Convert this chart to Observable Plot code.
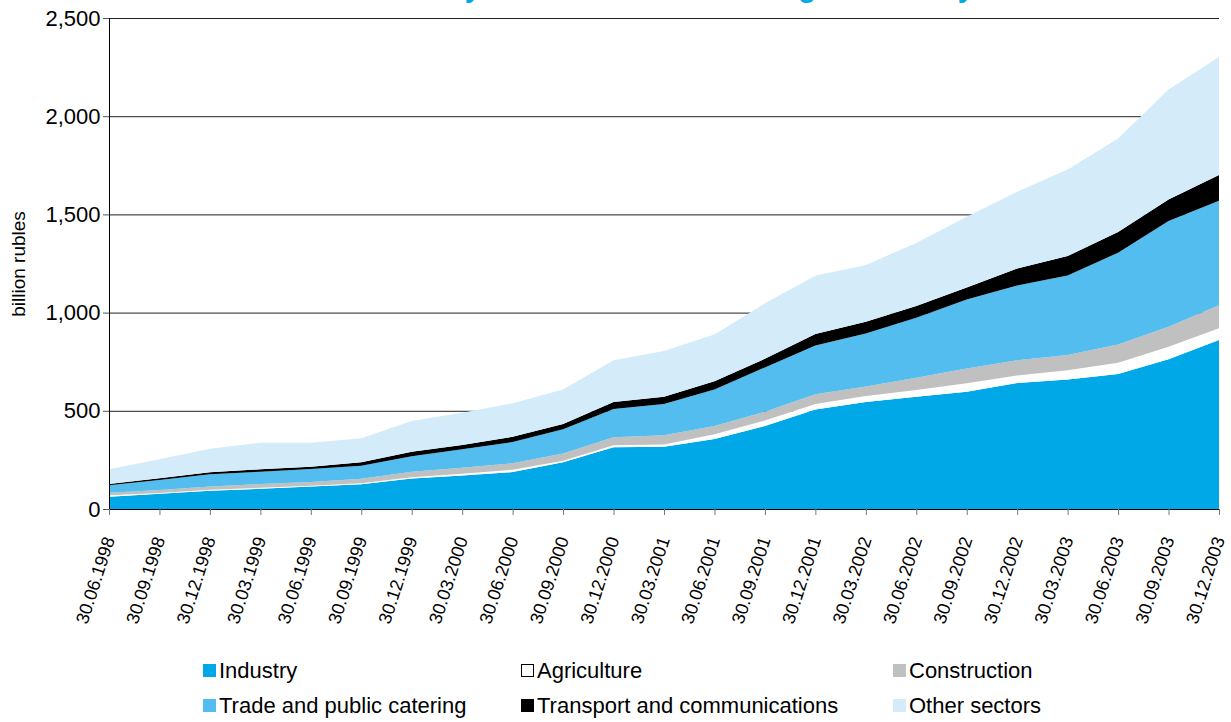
<!DOCTYPE html>
<html>
<head>
<meta charset="utf-8">
<script src="https://cdn.jsdelivr.net/npm/d3@7"></script>
<script src="https://cdn.jsdelivr.net/npm/@observablehq/plot@0.6"></script>
<style>
  html, body { margin: 0; padding: 0; background: #fff; overflow: hidden; }
  body { width: 1231px; height: 722px; position: relative; font-family: "Liberation Sans", Arial, sans-serif; }
  #title { position: absolute; left: 173px; top: -27px; font-size: 29px; line-height: 28px; font-weight: bold; color: #00a8e8; white-space: nowrap; }
  #chart { position: absolute; left: 0; top: 0; }
  #legend { position: absolute; left: 203px; top: 653px; display: grid; grid-template-columns: 318px 372px auto; grid-auto-rows: 35px; }
  .item { display: flex; align-items: center; font-size: 22px; color: #000; white-space: nowrap; }
  .sw { width: 13px; height: 13px; margin-right: 3px; box-sizing: border-box; }
</style>
</head>
<body>
<div id="title">Loans to the economy broken down according to industry</div>
<div id="chart"></div>
<div id="legend"></div>
<script>
const dates = ["30.06.1998","30.09.1998","30.12.1998","30.03.1999","30.06.1999","30.09.1999","30.12.1999","30.03.2000","30.06.2000","30.09.2000","30.12.2000","30.03.2001","30.06.2001","30.09.2001","30.12.2001","30.03.2002","30.06.2002","30.09.2002","30.12.2002","30.03.2003","30.06.2003","30.09.2003","30.12.2003"];
const industry     = [63,78,93,103,114,126,155,171,188,238,314,317,357,422,507,545,572,597,641,660,687,762,860];
const agriculture  = [7,4,5,5,5,5,7,9,12,8,10,12,23,28,27,30,34,43,39,47,58,64,60];
const construction = [13,15,16,19,18,23,28,30,33,37,41,46,43,45,50,49,62,76,78,77,93,102,117];
const trade        = [38,51,63,63,67,66,78,94,108,123,144,159,185,226,249,270,306,351,380,405,467,538,532];
const transport    = [6,8,10,12,11,18,24,22,27,27,36,38,42,44,58,59,59,61,87,99,106,110,131];
const other        = [75,97,120,135,122,122,156,164,170,176,213,232,239,282,296,289,322,360,390,441,476,560,602];
const sectors = ["Industry","Agriculture","Construction","Trade and public catering","Transport and communications","Other sectors"];
const colors  = ["#00a8e8","#ffffff","#c0c0c0","#52bdee","#000000","#d4ebf9"];
const yTicks  = [0,500,1000,1500,2000,2500];
const legendOrder = ["Industry","Agriculture","Construction","Trade and public catering","Transport and communications","Other sectors"];

const series = [industry, agriculture, construction, trade, transport, other];
const rows = [];
sectors.forEach((s, k) => dates.forEach((d, i) => rows.push({date: d, sector: s, value: series[k][i]})));

const chart = Plot.plot({
  width: 1231, height: 650,
  marginTop: 18, marginBottom: 141, marginLeft: 109, marginRight: 12,
  style: {fontFamily: "'Liberation Sans', Arial, sans-serif", color: "#000", background: "transparent"},
  x: {type: "point", domain: dates, padding: 0, round: false, label: null},
  y: {domain: [0, 2500], label: null},
  color: {domain: sectors, range: colors},
  marks: [
    Plot.ruleY(yTicks.slice(1), {stroke: "#222", strokeWidth: 1}),
    Plot.areaY(rows, {x: "date", y: "value", z: "sector", fill: "sector", order: sectors}),
    Plot.ruleY([0], {stroke: "#000"}),
    Plot.ruleX([dates[0]], {y1: 0, y2: 2500, stroke: "#000"}),
    Plot.axisY({ticks: yTicks, tickFormat: d3.format(","), tickSize: 6, tickPadding: 3, fontSize: 22, label: null, stroke: "#555"}),
    Plot.text(["billion rubles"], {frameAnchor: "left", textAnchor: "middle", rotate: -90, dx: -91, fontSize: 19, fill: "#000"}),
    Plot.axisX({tickRotate: -72, tickSize: 6, tickPadding: 22, fontSize: 18, label: null, stroke: "#777"})
  ]
});
document.getElementById("chart").appendChild(chart);

const legend = document.getElementById("legend");
legendOrder.forEach(name => {
  const k = sectors.indexOf(name);
  const item = document.createElement("div");
  item.className = "item";
  const sw = document.createElement("span");
  sw.className = "sw";
  sw.style.background = colors[k];
  if (colors[k] === "#ffffff") sw.style.border = "1px solid #000";
  item.appendChild(sw);
  const t = document.createElement("span");
  t.textContent = name;
  item.appendChild(t);
  legend.appendChild(item);
});
</script>
</body>
</html>
